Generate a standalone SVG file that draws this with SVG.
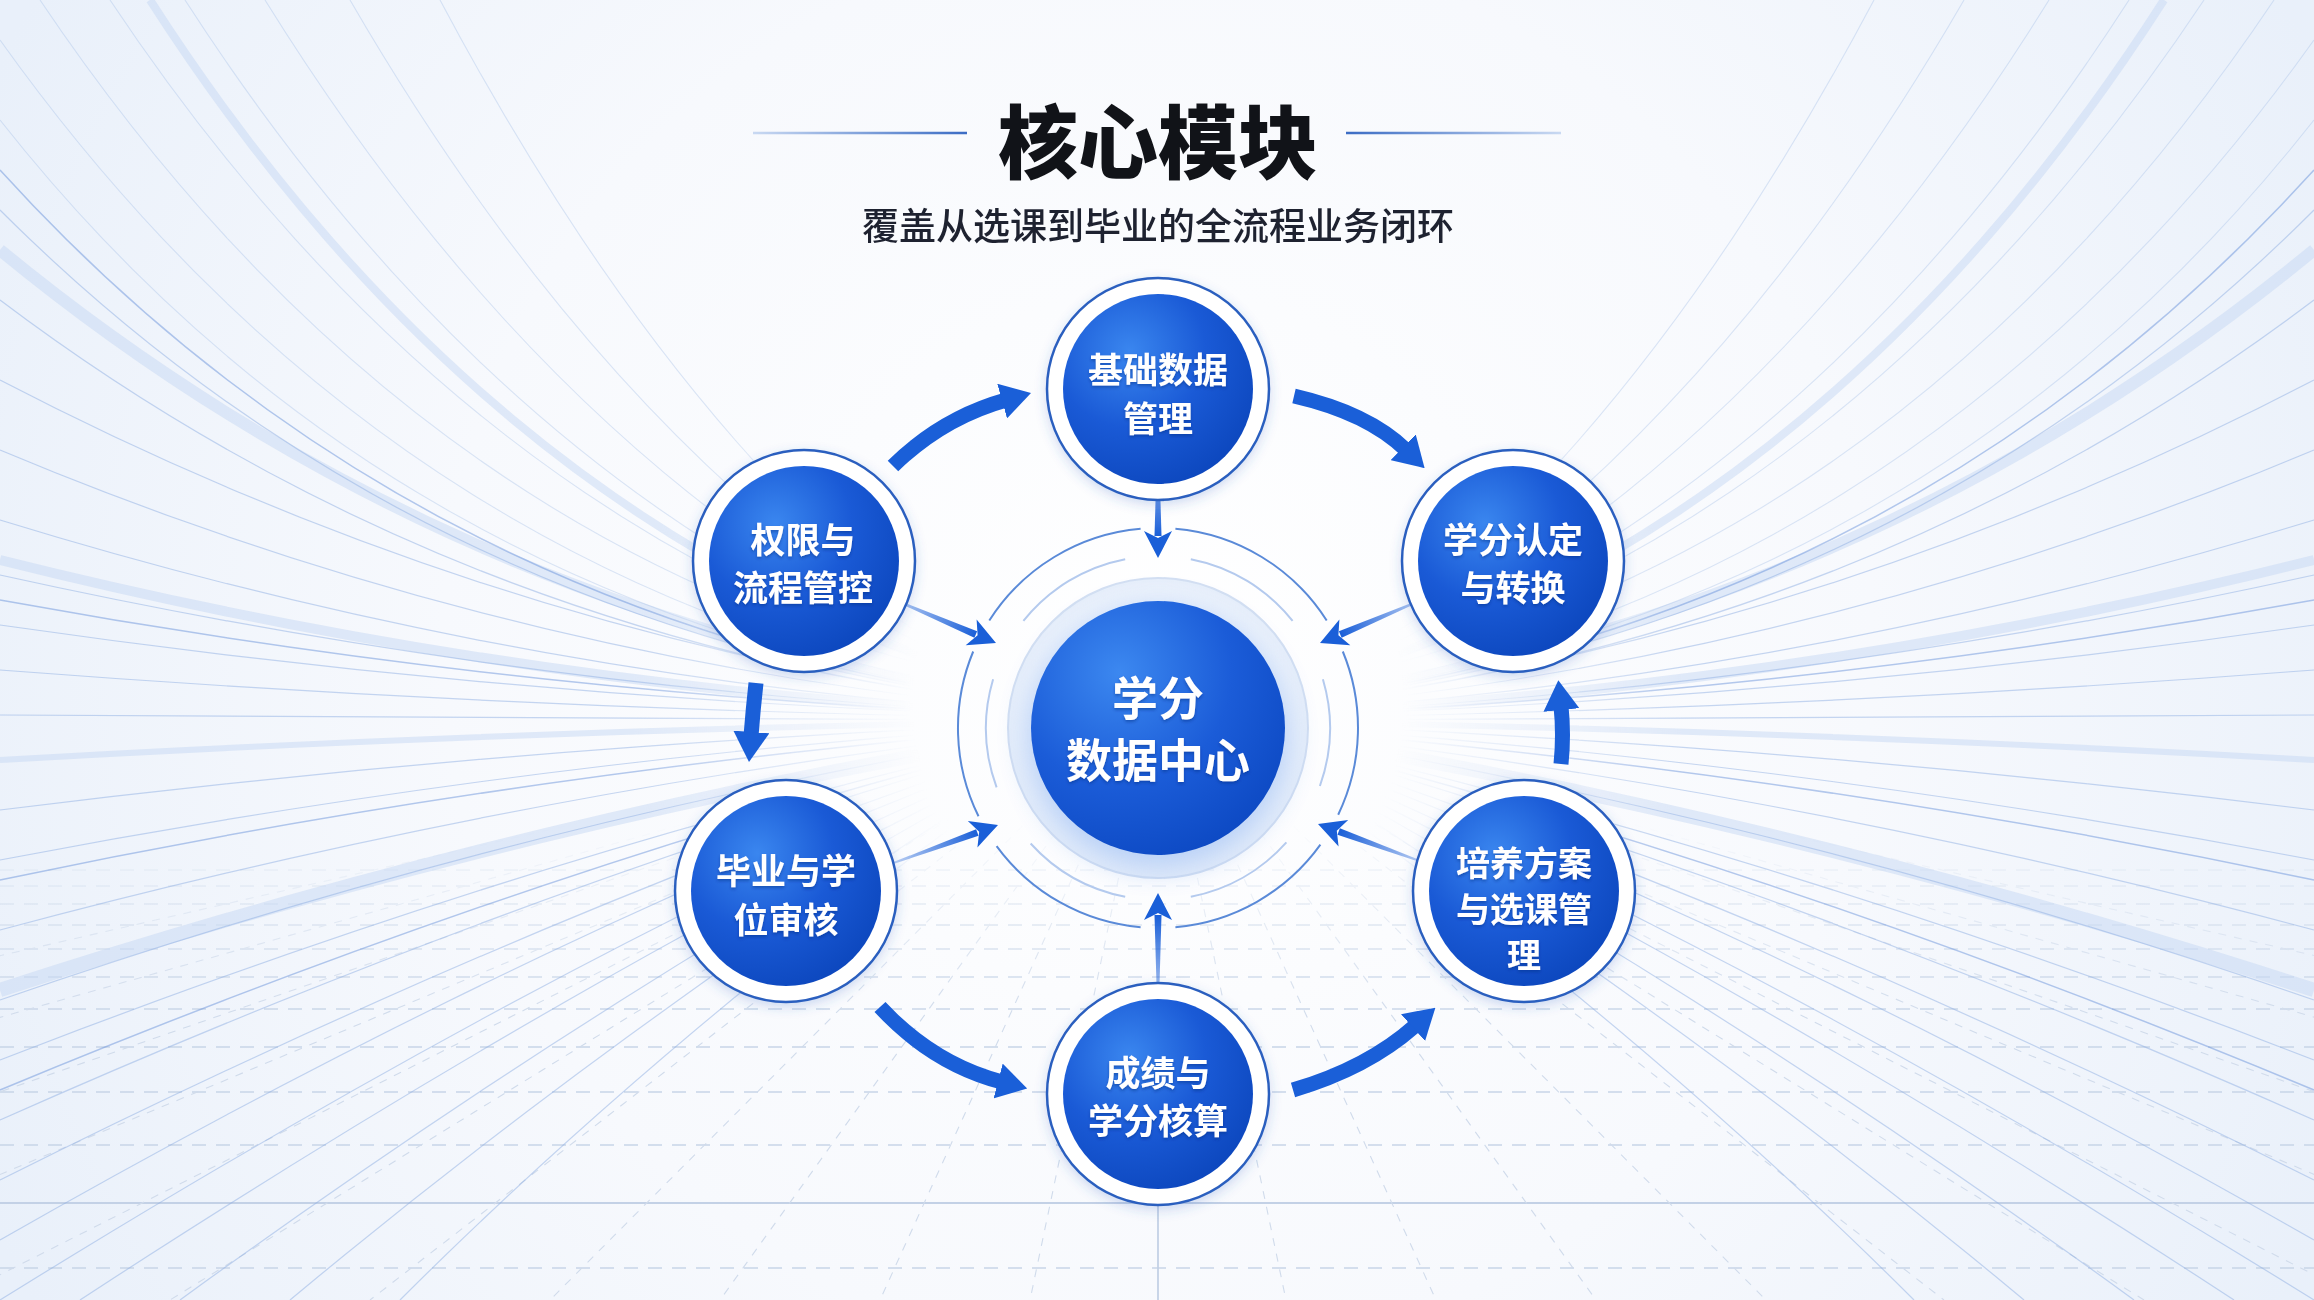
<svg xmlns="http://www.w3.org/2000/svg" xmlns:xlink="http://www.w3.org/1999/xlink" width="2314" height="1300" viewBox="0 0 2314 1300">
<defs>
  <style>
    .t { font-family: "Noto Sans CJK SC", "Noto Sans", sans-serif; }
    .title { font-size: 80px; font-weight: 900; fill: #111318; }
    .sub { font-size: 37px; font-weight: 500; fill: #1e2230; }
    .lbl { font-size: 35px; font-weight: 700; fill: #ffffff; }
    .lbl3 { font-size: 34px; font-weight: 700; fill: #ffffff; }
    .clbl { font-size: 46px; font-weight: 700; fill: #ffffff; }
    .ring { fill: #ffffff; stroke: #2b5fbf; stroke-width: 2.5; }
    .core { fill: url(#nodeGrad); }
    .cyc { fill: none; stroke: #1a5fd8; stroke-width: 15; marker-end: url(#headL); }
    .th { fill: none; stroke: #8fb0e3; stroke-width: 1.2; opacity: 0.5; }
    .tu { fill: none; stroke: #9db9e6; stroke-width: 1.1; opacity: 0.35; }
    .tk { fill: none; stroke: #c6d8f3; opacity: 0.5; }
    .td { fill: none; stroke: #5d8ad6; stroke-width: 1.5; opacity: 0.45; }
    .hz { stroke: #c8d5e8; stroke-width: 1.4; stroke-dasharray: 14 10; }
    .pv { stroke: #d0dbeb; stroke-width: 1.1; stroke-dasharray: 8 8; }
  </style>
  <radialGradient id="bgGrad" cx="1158" cy="650" r="1300" gradientUnits="userSpaceOnUse">
    <stop offset="0" stop-color="#ffffff"/>
    <stop offset="0.55" stop-color="#f7f9fd"/>
    <stop offset="1" stop-color="#e9f0fa"/>
  </radialGradient>
  <radialGradient id="nodeGrad" cx="0.35" cy="0.3" r="0.8">
    <stop offset="0" stop-color="#3a86ef"/>
    <stop offset="0.5" stop-color="#1a5ad6"/>
    <stop offset="1" stop-color="#0b45bb"/>
  </radialGradient>
  <radialGradient id="coreGrad" cx="0.35" cy="0.28" r="0.8">
    <stop offset="0" stop-color="#3c88f0"/>
    <stop offset="0.55" stop-color="#1b5cd8"/>
    <stop offset="1" stop-color="#0c48c2"/>
  </radialGradient>
  <radialGradient id="haloGrad" cx="0.5" cy="0.5" r="0.5">
    <stop offset="0.8" stop-color="#ffffff"/>
    <stop offset="1" stop-color="#e6eefa"/>
  </radialGradient>
  <radialGradient id="fadeC" cx="1158" cy="700" r="700" gradientUnits="userSpaceOnUse">
    <stop offset="0.35" stop-color="#000"/>
    <stop offset="0.75" stop-color="#fff"/>
  </radialGradient>
  <mask id="streakMask" maskUnits="userSpaceOnUse" x="0" y="0" width="2314" height="1300">
    <rect width="2314" height="1300" fill="url(#fadeC)"/>
  </mask>
  <linearGradient id="floorFade" x1="0" y1="820" x2="0" y2="1020" gradientUnits="userSpaceOnUse">
    <stop offset="0" stop-color="#000"/>
    <stop offset="1" stop-color="#fff"/>
  </linearGradient>
  <mask id="floorMask" maskUnits="userSpaceOnUse" x="0" y="0" width="2314" height="1300">
    <rect width="2314" height="1300" fill="url(#floorFade)"/>
  </mask>
  <linearGradient id="lineL" x1="753" y1="0" x2="967" y2="0" gradientUnits="userSpaceOnUse">
    <stop offset="0" stop-color="#c9d9f2"/>
    <stop offset="1" stop-color="#3b6cc4"/>
  </linearGradient>
  <linearGradient id="lineR" x1="1346" y1="0" x2="1561" y2="0" gradientUnits="userSpaceOnUse">
    <stop offset="0" stop-color="#3b6cc4"/>
    <stop offset="1" stop-color="#c9d9f2"/>
  </linearGradient>
  <linearGradient id="shaftGrad" x1="0" y1="0" x2="1" y2="0">
    <stop offset="0" stop-color="#1a5fd8" stop-opacity="0.25"/>
    <stop offset="1" stop-color="#1a5fd8" stop-opacity="1"/>
  </linearGradient>
  <filter id="shadow" x="-30%" y="-30%" width="160%" height="160%">
    <feDropShadow dx="0" dy="4" stdDeviation="6" flood-color="#2f63c4" flood-opacity="0.22"/>
  </filter>
  <filter id="txtSh" x="-20%" y="-20%" width="140%" height="140%">
    <feDropShadow dx="0" dy="2" stdDeviation="1.5" flood-color="#062d80" flood-opacity="0.45"/>
  </filter>
  <filter id="blur12" x="-50%" y="-50%" width="200%" height="200%">
    <feGaussianBlur stdDeviation="14"/>
  </filter>
  <marker id="headL" viewBox="0 0 30 36" refX="4" refY="18" markerWidth="30" markerHeight="36" markerUnits="userSpaceOnUse" orient="auto">
    <path d="M0 0 L30 18 L0 36 Z" fill="#1a5fd8"/>
  </marker>
  <g id="inArrow">
    <path d="M-115 -0.8 L-22 -3.5 L-22 3.5 L-115 0.8 Z" fill="url(#shaftGrad)"/>
    <path d="M0 0 L-27 -14 L-20 0 L-27 14 Z" fill="#1a5fd8"/>
  </g>
  <g id="streaksL">
    <path class="tk" stroke-width="12" d="M0 250 Q450 620 1030 700" opacity="0.35"/>
    <path class="tk" stroke-width="10" d="M0 560 Q520 690 1040 714"/>
    <path class="tk" stroke-width="14" d="M0 990 Q520 820 1060 730"/>
    <path class="tk" stroke-width="8" d="M150 0 Q500 545 1030 692" opacity="0.3"/>
    <path class="tk" stroke-width="6" d="M0 760 Q520 730 1040 722"/>
    <path class="tu" d="M40 0 Q430 580 1030 688"/>
    <path class="tu" d="M110 0 Q480 555 1030 690"/>
    <path class="tu" d="M185 0 Q530 535 1030 692"/>
    <path class="tu" d="M265 0 Q585 515 1030 694"/>
    <path class="tu" d="M350 0 Q640 500 1030 696"/>
    <path class="tu" d="M440 0 Q700 490 1030 698"/>
    <path class="tu" d="M0 40 Q400 600 1030 700"/>
    <path class="tu" d="M0 120 Q390 615 1030 702"/>
    <path class="th" d="M0 210 Q420 630 1030 704"/>
    <path class="th" d="M0 300 Q450 640 1030 706"/>
    <path class="th" d="M0 380 Q500 640 1040 708"/>
    <path class="th" d="M0 450 Q500 660 1040 710"/>
    <path class="th" d="M0 520 Q520 680 1040 712"/>
    <path class="th" d="M0 575 Q520 690 1040 714"/>
    <path class="th" d="M0 625 Q520 700 1040 716"/>
    <path class="th" d="M0 670 Q520 710 1040 718"/>
    <path class="th" d="M0 715 Q520 718 1040 720"/>
    <path class="th" d="M0 810 Q520 745 1040 724"/>
    <path class="th" d="M0 860 Q520 760 1040 726"/>
    <path class="th" d="M0 930 Q520 790 1060 728"/>
    <path class="th" d="M0 1000 Q520 820 1060 730"/>
    <path class="th" d="M0 1060 Q540 850 1060 732"/>
    <path class="th" d="M0 1120 Q540 880 1060 734"/>
    <path class="th" d="M0 1180 Q560 900 1060 736"/>
    <path class="th" d="M0 1240 Q560 920 1060 738"/>
    <path class="th" d="M0 1300 Q580 940 1060 740"/>
    <path class="th" d="M80 1300 Q600 960 1060 742"/>
    <path class="th" d="M180 1300 Q620 980 1060 744"/>
    <path class="th" d="M290 1300 Q650 1000 1060 746"/>
    <path class="th" d="M400 1300 Q680 1020 1060 748"/>
    <path class="td" d="M0 600 Q520 695 1040 715"/>
    <path class="td" d="M0 880 Q520 770 1060 727"/>
    <path class="td" d="M0 1090 Q540 865 1060 733"/>
    <path class="td" d="M0 170 Q410 622 1030 703" opacity="0.3"/>
  </g>
</defs>

<!-- background -->
<rect width="2314" height="1300" fill="url(#bgGrad)"/>
<g id="floor" mask="url(#floorMask)">
  <line class="hz" x1="0" y1="870" x2="2314" y2="870"/>
  <line class="hz" x1="0" y1="886" x2="2314" y2="886"/>
  <line class="hz" x1="0" y1="904" x2="2314" y2="904"/>
  <line class="hz" x1="0" y1="925" x2="2314" y2="925"/>
  <line class="hz" x1="0" y1="949" x2="2314" y2="949"/>
  <line class="hz" x1="0" y1="977" x2="2314" y2="977"/>
  <line class="hz" x1="0" y1="1009" x2="2314" y2="1009"/>
  <line class="hz" x1="0" y1="1047" x2="2314" y2="1047"/>
  <line class="hz" x1="0" y1="1092" x2="2314" y2="1092"/>
  <line class="hz" x1="0" y1="1145" x2="2314" y2="1145"/>
  <line x1="0" y1="1203" x2="2314" y2="1203" stroke="#c3d1e6" stroke-width="1.8"/>
  <line class="hz" x1="0" y1="1268" x2="2314" y2="1268"/>
  <line x1="1158" y1="1203" x2="1158" y2="1300" stroke="#c3d1e6" stroke-width="1.8"/>
  <line class="pv" x1="1158" y1="690" x2="-1500" y2="1300"/>
  <line class="pv" x1="1158" y1="690" x2="-1000" y2="1300"/>
  <line class="pv" x1="1158" y1="690" x2="-600" y2="1300"/>
  <line class="pv" x1="1158" y1="690" x2="-300" y2="1300"/>
  <line class="pv" x1="1158" y1="690" x2="-50" y2="1300"/>
  <line class="pv" x1="1158" y1="690" x2="170" y2="1300"/>
  <line class="pv" x1="1158" y1="690" x2="370" y2="1300"/>
  <line class="pv" x1="1158" y1="690" x2="550" y2="1300"/>
  <line class="pv" x1="1158" y1="690" x2="720" y2="1300"/>
  <line class="pv" x1="1158" y1="690" x2="880" y2="1300"/>
  <line class="pv" x1="1158" y1="690" x2="1030" y2="1300"/>
  <line class="pv" x1="1158" y1="690" x2="1286" y2="1300"/>
  <line class="pv" x1="1158" y1="690" x2="1436" y2="1300"/>
  <line class="pv" x1="1158" y1="690" x2="1596" y2="1300"/>
  <line class="pv" x1="1158" y1="690" x2="1766" y2="1300"/>
  <line class="pv" x1="1158" y1="690" x2="1944" y2="1300"/>
  <line class="pv" x1="1158" y1="690" x2="2144" y2="1300"/>
  <line class="pv" x1="1158" y1="690" x2="2364" y2="1300"/>
  <line class="pv" x1="1158" y1="690" x2="2614" y2="1300"/>
  <line class="pv" x1="1158" y1="690" x2="2914" y2="1300"/>
  <line class="pv" x1="1158" y1="690" x2="3314" y2="1300"/>
  <line class="pv" x1="1158" y1="690" x2="3814" y2="1300"/>
</g>
<g id="streaks" mask="url(#streakMask)">
  <use xlink:href="#streaksL" href="#streaksL"/>
  <use xlink:href="#streaksL" href="#streaksL" transform="matrix(-1 0 0 1 2314 0)"/>
</g>

<!-- title -->
<g id="title">
  <line x1="753" y1="133" x2="967" y2="133" stroke="url(#lineL)" stroke-width="2.5"/>
  <line x1="1346" y1="133" x2="1561" y2="133" stroke="url(#lineR)" stroke-width="2.5"/>
  <text class="t title" x="1158" y="137" text-anchor="middle" dominant-baseline="central">核心模块</text>
  <text class="t sub" x="1158" y="224" text-anchor="middle" dominant-baseline="central">覆盖从选课到毕业的全流程业务闭环</text>
</g>

<!-- hub rings -->
<g id="hub-rings">
  <circle cx="1158" cy="728" r="150" fill="url(#haloGrad)" stroke="#d3dff2" stroke-width="2"/>
  <path fill="none" stroke="#5a8ad8" stroke-width="2" d="M989.3 620.5 A200 200 0 0 1 1140.6 528.8 M1175.4 528.8 A200 200 0 0 1 1326.7 620.5 M1342.8 651.5 A200 200 0 0 1 1338.2 814.7 M1320.4 844.7 A200 200 0 0 1 1175.4 927.2 M1140.6 927.2 A200 200 0 0 1 996.6 846.1 M978.5 816.3 A200 200 0 0 1 973.2 651.5"/>
  <path fill="none" stroke="#b4caee" stroke-width="2" d="M1023.4 620.9 A172 172 0 0 1 1125.2 559.2 M1190.8 559.2 A172 172 0 0 1 1292.6 620.9 M1322.9 679.2 A172 172 0 0 1 1319.9 786.0 M1286.4 842.4 A172 172 0 0 1 1190.8 896.8 M1125.2 896.8 A172 172 0 0 1 1030.6 843.5 M996.6 787.4 A172 172 0 0 1 993.1 679.2"/>
</g>

<!-- connectors -->
<g id="connectors">
  <path class="cyc" d="M893 466 Q942 418 1006 400"/>
  <path class="cyc" d="M1294 396 Q1368 413 1406 450"/>
  <path class="cyc" d="M1561 764 Q1564 735 1561 706"/>
  <path class="cyc" d="M756 683 Q753 710 751 736"/>
  <path class="cyc" d="M880 1007 Q933 1064 1002 1082"/>
  <path class="cyc" d="M1293 1090 Q1368 1068 1416 1025"/>
  <use xlink:href="#inArrow" href="#inArrow" transform="translate(1158 558) rotate(90)"/>
  <use xlink:href="#inArrow" href="#inArrow" transform="translate(996 643) rotate(23)"/>
  <use xlink:href="#inArrow" href="#inArrow" transform="translate(1320 643) rotate(157)"/>
  <use xlink:href="#inArrow" href="#inArrow" transform="translate(998 825) rotate(-20)"/>
  <use xlink:href="#inArrow" href="#inArrow" transform="translate(1318 824) rotate(200)"/>
  <use xlink:href="#inArrow" href="#inArrow" transform="translate(1158 893) rotate(-90)"/>
</g>

<!-- central hub -->
<g id="n-center">
  <circle cx="1158" cy="736" r="132" fill="#5f95ec" opacity="0.45" filter="url(#blur12)"/>
  <circle cx="1158" cy="728" r="127" fill="url(#coreGrad)"/>
  <g filter="url(#txtSh)">
    <text class="t clbl" x="1158" y="695" text-anchor="middle" dominant-baseline="central">学分</text>
    <text class="t clbl" x="1158" y="757" text-anchor="middle" dominant-baseline="central">数据中心</text>
  </g>
</g>

<!-- nodes -->
<g id="n-top">
  <circle class="ring" cx="1158" cy="389" r="111" filter="url(#shadow)"/>
  <circle class="core" cx="1158" cy="389" r="95"/>
  <g filter="url(#txtSh)">
    <text class="t lbl" x="1158" y="367" text-anchor="middle" dominant-baseline="central">基础数据</text>
    <text class="t lbl" x="1158" y="416" text-anchor="middle" dominant-baseline="central">管理</text>
  </g>
</g>
<g id="n-ur">
  <circle class="ring" cx="1513" cy="561" r="111" filter="url(#shadow)"/>
  <circle class="core" cx="1513" cy="561" r="95"/>
  <g filter="url(#txtSh)">
    <text class="t lbl" x="1513" y="537" text-anchor="middle" dominant-baseline="central">学分认定</text>
    <text class="t lbl" x="1513" y="585" text-anchor="middle" dominant-baseline="central">与转换</text>
  </g>
</g>
<g id="n-lr">
  <circle class="ring" cx="1524" cy="891" r="111" filter="url(#shadow)"/>
  <circle class="core" cx="1524" cy="891" r="95"/>
  <g filter="url(#txtSh)">
    <text class="t lbl3" x="1524" y="861" text-anchor="middle" dominant-baseline="central">培养方案</text>
    <text class="t lbl3" x="1524" y="907" text-anchor="middle" dominant-baseline="central">与选课管</text>
    <text class="t lbl3" x="1524" y="953" text-anchor="middle" dominant-baseline="central">理</text>
  </g>
</g>
<g id="n-bottom">
  <circle class="ring" cx="1158" cy="1094" r="111" filter="url(#shadow)"/>
  <circle class="core" cx="1158" cy="1094" r="95"/>
  <g filter="url(#txtSh)">
    <text class="t lbl" x="1158" y="1070" text-anchor="middle" dominant-baseline="central">成绩与</text>
    <text class="t lbl" x="1158" y="1118" text-anchor="middle" dominant-baseline="central">学分核算</text>
  </g>
</g>
<g id="n-ll">
  <circle class="ring" cx="786" cy="891" r="111" filter="url(#shadow)"/>
  <circle class="core" cx="786" cy="891" r="95"/>
  <g filter="url(#txtSh)">
    <text class="t lbl" x="786" y="868" text-anchor="middle" dominant-baseline="central">毕业与学</text>
    <text class="t lbl" x="786" y="917" text-anchor="middle" dominant-baseline="central">位审核</text>
  </g>
</g>
<g id="n-ul">
  <circle class="ring" cx="804" cy="561" r="111" filter="url(#shadow)"/>
  <circle class="core" cx="804" cy="561" r="95"/>
  <g filter="url(#txtSh)">
    <text class="t lbl" x="803" y="537" text-anchor="middle" dominant-baseline="central">权限与</text>
    <text class="t lbl" x="803" y="585" text-anchor="middle" dominant-baseline="central">流程管控</text>
  </g>
</g>
</svg>
